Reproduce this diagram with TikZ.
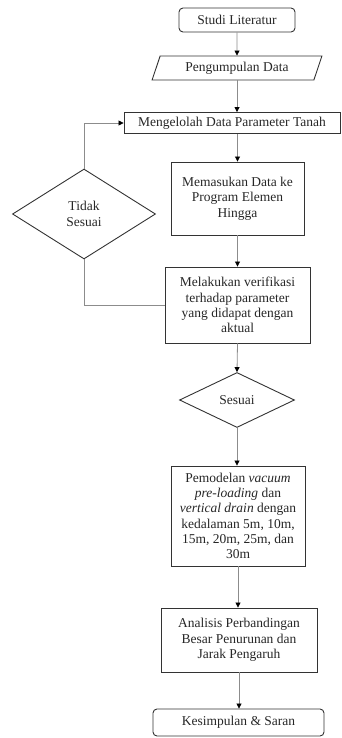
\documentclass[tikz,border=0pt]{standalone}
\usepackage{fontspec}
\setmainfont{Liberation Serif}
\usetikzlibrary{shapes.geometric,arrows.meta}
\begin{document}
\begin{tikzpicture}[x=1pt,y=-1pt,
  txt/.style={font=\fontsize{13.5}{15.3}\selectfont, text=black!85, align=center},
  base/.style={txt, draw=black!80, line width=0.9pt, inner sep=1pt},
  boxnode/.style={base, rectangle},
  roundnode/.style={base, rectangle, rounded corners=4pt},
  paranode/.style={base, trapezium, trapezium left angle=69, trapezium right angle=111, trapezium stretches=true},
  decnode/.style={base, diamond, aspect=1.6},
  flow/.style={draw=black!45, line width=0.8pt},
  flowarrow/.style={flow, -{Triangle[length=5pt,width=5pt,color=black]}}
]
\useasboundingbox (0,0) rectangle (342,738);

\node[roundnode, minimum width=116pt, minimum height=24pt] (studi) at (237,20) {Studi Literatur};
\node[paranode, minimum width=170pt, minimum height=24pt] (kumpul) at (237,68) {Pengumpulan Data};
\node[boxnode, minimum width=216pt, minimum height=21pt] (olah) at (232,123) {Mengelolah Data Parameter Tanah};
\node[boxnode, minimum width=133pt, minimum height=73pt] (masuk) at (237.5,198.5) {Memasukan Data ke\\Program Elemen\\Hingga};
\node[decnode, minimum width=143pt, minimum height=90pt, inner sep=0pt] (tidak) at (84,214) {};
\node[txt] at (tidak.center) {Tidak\\Sesuai};
\node[boxnode, minimum width=145pt, minimum height=76pt] (verif) at (237.5,305) {Melakukan verifikasi\\terhadap parameter\\yang didapat dengan\\aktual};
\node[decnode, minimum width=115pt, minimum height=55pt, inner sep=0pt] (sesuai) at (237,400) {};
\node[txt] at (sesuai.center) {Sesuai};
\node[boxnode, minimum width=134pt, minimum height=100pt] (model) at (238,516) {Pemodelan \textit{vacuum}\\\textit{pre-loading} dan\\\textit{vertical drain} dengan\\kedalaman 5m, 10m,\\15m, 20m, 25m, dan\\30m};
\node[boxnode, minimum width=156pt, minimum height=64pt] (analisis) at (239,640) {Analisis Perbandingan\\Besar Penurunan dan\\Jarak Pengaruh};
\node[roundnode, minimum width=171pt, minimum height=27pt] (simpul) at (238.5,722.5) {Kesimpulan \& Saran};

\draw[flowarrow] (studi.south) -- (kumpul.south |- kumpul.north);
\draw[flowarrow] (kumpul.south) -- (kumpul.south |- olah.north);
\draw[flowarrow] (olah.south -| masuk.north) -- (masuk.north);
\draw[flowarrow] (masuk.south) -- (masuk.south |- verif.north);
\draw[flowarrow] (verif.south) -- (sesuai.north);
\draw[flowarrow] (sesuai.south) -- (sesuai.south |- model.north);
\draw[flowarrow] (model.south) -- (model.south |- analisis.north);
\draw[flowarrow] (analisis.south) -- (analisis.south |- simpul.north);
\draw[flowarrow] (tidak.north) |- (olah.west);
\draw[flow] (verif.west) -| (tidak.south);
\end{tikzpicture}
\end{document}
